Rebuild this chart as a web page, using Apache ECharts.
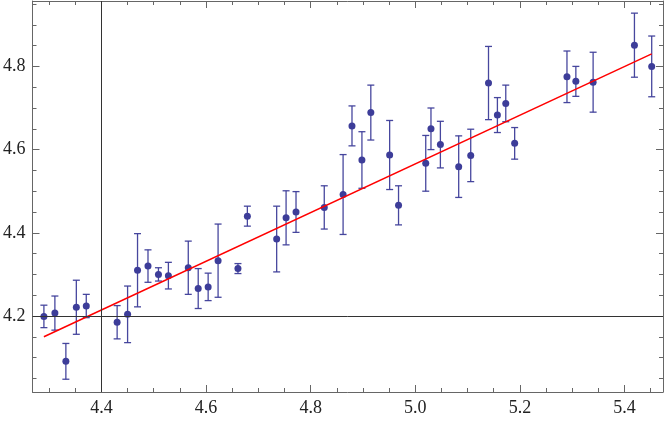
<!DOCTYPE html>
<html>
<head>
<meta charset="utf-8">
<script src="https://cdn.jsdelivr.net/npm/echarts@6/dist/echarts.min.js"></script>
<style>
html,body{margin:0;padding:0;background:#fff;}
#chart{width:664px;height:421px;}
</style>
</head>
<body>
<div id="chart"></div>
<script>
// ---- data ----
const xs = [4.290,4.311,4.332,4.352,4.371,4.430,4.450,4.469,4.489,4.509,4.528,4.566,4.585,4.604,4.623,4.661,4.679,4.735,4.753,4.772,4.826,4.862,4.879,4.898,4.915,4.951,4.968,5.020,5.030,5.048,5.083,5.106,5.140,5.157,5.173,5.190,5.290,5.307,5.340,5.419,5.452];
const ys = [4.199,4.207,4.091,4.221,4.224,4.185,4.204,4.310,4.320,4.300,4.297,4.316,4.266,4.270,4.333,4.314,4.440,4.385,4.436,4.450,4.461,4.492,4.657,4.575,4.689,4.587,4.466,4.567,4.650,4.612,4.559,4.586,4.760,4.683,4.711,4.615,4.775,4.764,4.762,4.851,4.800];
const errs = [0.027,0.041,0.043,0.065,0.028,0.040,0.068,0.088,0.039,0.016,0.032,0.064,0.048,0.033,0.088,0.012,0.024,0.079,0.065,0.049,0.052,0.096,0.048,0.068,0.066,0.083,0.047,0.067,0.050,0.056,0.074,0.063,0.088,0.042,0.044,0.038,0.062,0.036,0.072,0.077,0.073];
const fitX = [4.290, 5.452];
const fitY = [4.150, 4.830];
const axesOrigin = [4.4, 4.2];
const xMajor = [4.4,4.6,4.8,5.0,5.2,5.4];
const xMinor = [4.3,4.35,4.45,4.5,4.55,4.65,4.7,4.75,4.85,4.9,4.95,5.05,5.1,5.15,5.25,5.3,5.35,5.45];
const yMajor = [4.2,4.4,4.6,4.8];
const yMinor = [4.05,4.1,4.15,4.25,4.3,4.35,4.45,4.5,4.55,4.65,4.7,4.75,4.85,4.9,4.95];
const xRange = [4.2682, 5.4736];
const yRange = [4.0173, 4.9572];

// ---- chart ----
const frameColor = '#666';
const ptColor = '#3d3d99';
const labelFont = {fontFamily:"'Liberation Serif', 'Times New Roman', Times, serif", fontSize:18, color:'#222'};

function mkX(pos, vals, len, labels, line){
  return {
    type:'value', position:pos, min:xRange[0], max:xRange[1],
    axisLine:{show:line, lineStyle:{color:frameColor, width:1}},
    axisTick:{show:true, inside:true, length:len, customValues:vals, lineStyle:{color:frameColor}},
    axisLabel:Object.assign({show:labels, customValues:vals, margin:7, formatter:v=>v.toFixed(1)}, labelFont),
    splitLine:{show:false}
  };
}
function mkY(pos, vals, len, labels, line){
  return {
    type:'value', position:pos, min:yRange[0], max:yRange[1],
    axisLine:{show:line, lineStyle:{color:frameColor, width:1}},
    axisTick:{show:true, inside:true, length:len, customValues:vals, lineStyle:{color:frameColor}},
    axisLabel:Object.assign({show:labels, customValues:vals, margin:7, formatter:v=>v.toFixed(1)}, labelFont),
    splitLine:{show:false}
  };
}

const pts = xs.map((x,i)=>[x, ys[i]]);
const errData = xs.map((x,i)=>[x, ys[i]-errs[i], ys[i]+errs[i]]);

const chart = echarts.init(document.getElementById('chart'), null, {renderer:'canvas'});
chart.setOption({
  animation:false,
  grid:{left:32, right:1, top:1, bottom:29, containLabel:false},
  xAxis:[
    mkX('bottom', xMajor, 7, true, true),
    mkX('bottom', xMinor, 4, false, false),
    mkX('top', xMajor, 7, false, true),
    mkX('top', xMinor, 4, false, false)
  ],
  yAxis:[
    mkY('left', yMajor, 7, true, true),
    mkY('left', yMinor, 4, false, false),
    mkY('right', yMajor, 7, false, true),
    mkY('right', yMinor, 4, false, false)
  ],
  series:[
    {
      type:'line', xAxisIndex:0, yAxisIndex:0, data:[], silent:true,
      markLine:{
        symbol:'none', silent:true, label:{show:false},
        lineStyle:{color:'#333', width:1, type:'solid'},
        data:[{xAxis:axesOrigin[0]},{yAxis:axesOrigin[1]}]
      }
    },
    {
      type:'custom', xAxisIndex:0, yAxisIndex:0, data:errData,
      renderItem:function(params, api){
        const x = api.value(0);
        const lo = api.coord([x, api.value(1)]);
        const hi = api.coord([x, api.value(2)]);
        const w = 3.5;
        const st = {stroke:ptColor, lineWidth:1.3, opacity:0.95};
        return {type:'group', children:[
          {type:'line', shape:{x1:lo[0], y1:lo[1], x2:hi[0], y2:hi[1]}, style:st},
          {type:'line', shape:{x1:lo[0]-w, y1:lo[1], x2:lo[0]+w, y2:lo[1]}, style:st},
          {type:'line', shape:{x1:hi[0]-w, y1:hi[1], x2:hi[0]+w, y2:hi[1]}, style:st}
        ]};
      }
    },
    {
      type:'line', xAxisIndex:0, yAxisIndex:0,
      data:fitX.map((x,i)=>[x, fitY[i]]),
      symbol:'none', lineStyle:{color:'#ff0000', width:1.5}
    },
    {
      type:'scatter', xAxisIndex:0, yAxisIndex:0, data:pts,
      symbol:'circle', symbolSize:7, itemStyle:{color:ptColor, opacity:1}
    }
  ]
});
</script>
</body>
</html>
